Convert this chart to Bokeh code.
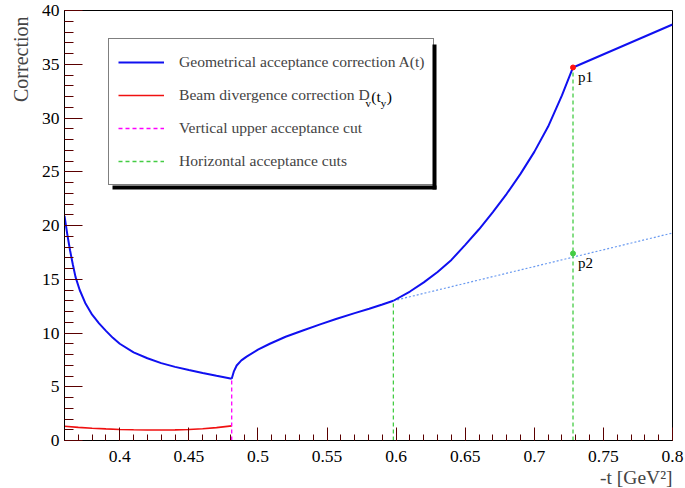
from bokeh.plotting import figure
from bokeh.models import (Range1d, FixedTicker, Legend, LegendItem, Label, Title,
                          BoxAnnotation)
from bokeh.core.properties import value
from bokeh.embed import file_html
from bokeh.resources import INLINE

# ---------------- data ----------------
# Geometrical acceptance correction A(t), piecewise
t_geo_1 = [0.360, 0.362, 0.364, 0.366, 0.368, 0.371, 0.375, 0.380, 0.385, 0.390,
           0.395, 0.400, 0.410, 0.420, 0.430, 0.440, 0.450, 0.460, 0.470, 0.481]
a_geo_1 = [20.9, 19.2, 17.7, 16.4, 15.2, 14.0, 12.8, 11.7, 10.9, 10.2,
           9.55, 9.0, 8.2, 7.65, 7.2, 6.85, 6.55, 6.28, 6.02, 5.74]
t_geo_2 = [0.481, 0.4825, 0.4846, 0.488, 0.4918, 0.500, 0.5086, 0.520, 0.5325,
           0.545, 0.5565, 0.570, 0.5805, 0.590, 0.598]
a_geo_2 = [5.74, 6.4, 6.98, 7.45, 7.8, 8.45, 9.0, 9.65, 10.23,
           10.8, 11.3, 11.85, 12.25, 12.65, 13.0]
t_geo_3 = [0.598, 0.610, 0.620, 0.630, 0.640, 0.650, 0.660, 0.670, 0.680,
           0.690, 0.700, 0.710, 0.720, 0.728]
a_geo_3 = [13.0, 13.86, 14.71, 15.68, 16.8, 18.2, 19.65, 21.25, 22.95,
           24.8, 26.85, 29.2, 32.1, 34.7]
t_geo_4 = [0.728, 0.800]
a_geo_4 = [34.7, 38.7]

# extrapolation (dotted light blue)
t_extrap = [0.598, 0.800]
a_extrap = [13.0, 19.3]

# Beam divergence correction D_v(t_y)
t_div = [0.360, 0.370, 0.380, 0.390, 0.400, 0.410, 0.420, 0.430, 0.440,
         0.450, 0.460, 0.470, 0.481]
d_div = [1.32, 1.22, 1.14, 1.08, 1.03, 1.0, 0.98, 0.97, 0.99,
         1.03, 1.1, 1.2, 1.36]

# acceptance cuts
t_vert_cut = [0.481]
a_vert_cut = [5.74]
t_hor_cut = [0.598, 0.728]
a_hor_cut = [13.0, 34.7]

# marked points
p1_t, p1_a = [0.728], [34.7]
p2_t, p2_a = [0.728], [17.4]
p_names_1 = ["p1"]
p_names_2 = ["p2"]

# axes
x_lo, x_hi = 0.36, 0.80
y_lo, y_hi = 0, 40
x_ticks = [0.40, 0.45, 0.50, 0.55, 0.60, 0.65, 0.70, 0.75, 0.80]
x_tick_labels = ["0.4", "0.45", "0.5", "0.55", "0.6", "0.65", "0.7", "0.75", "0.8"]
x_minor = [round(0.36 + 0.01 * i, 2) for i in range(45)]
y_ticks = [0, 5, 10, 15, 20, 25, 30, 35, 40]
y_minor = list(range(0, 41))

legend_labels = ["Geometrical acceptance correction A(t)",
                 "Beam divergence correction D",
                 "Vertical upper acceptance cut",
                 "Horizontal acceptance cuts"]
# pieces following "D" in the second legend entry: D_v(t_y)
legend2_tail = [("v", True), ("(t", False), ("y", True), (")", False)]
x_title = "-t [GeV\u00b2]"
y_title = "Correction"

FONT = "Liberation Serif"
TICK_COLOR = "#5a0000"

# ---------------- figure / layout ----------------
W, H = 685, 488
BL, BR, BT, BB = 60, 13, 10, 48
FW, FH = W - BL - BR, H - BT - BB          # frame size in px


def px_x(px):   # horizontal pixel offset inside the frame -> data
    return x_lo + px / FW * (x_hi - x_lo)


def px_y(py):   # vertical pixel offset from the frame top -> data
    return y_hi - py / FH * (y_hi - y_lo)


p = figure(width=W, height=H, output_backend="svg", toolbar_location=None,
           x_range=Range1d(x_lo, x_hi), y_range=Range1d(y_lo, y_hi),
           min_border_left=BL, min_border_right=BR, min_border_top=BT,
           min_border_bottom=BB)
p.xgrid.visible = False
p.ygrid.visible = False
p.outline_line_color = "black"
p.background_fill_color = "white"
p.border_fill_color = "white"

for ax in (p.xaxis[0], p.yaxis[0]):
    ax.major_tick_out = 0
    ax.minor_tick_out = 0
    ax.major_tick_line_color = TICK_COLOR
    ax.minor_tick_line_color = TICK_COLOR
    ax.axis_line_color = "#000000"
    ax.major_label_text_font = FONT
    ax.major_label_text_font_size = "17.5px"
    ax.major_label_text_color = "black"

p.xaxis.ticker = FixedTicker(ticks=x_ticks, minor_ticks=x_minor)
p.xaxis.major_label_overrides = dict(zip(x_ticks, x_tick_labels))
p.xaxis.major_label_standoff = 10
p.xaxis.major_tick_in = 13
p.xaxis.minor_tick_in = 6
p.yaxis.ticker = FixedTicker(ticks=y_ticks, minor_ticks=y_minor)
p.yaxis.major_label_standoff = 5
p.yaxis.major_tick_in = 18
p.yaxis.minor_tick_in = 9

# axis titles (right aligned, ROOT style)
p.add_layout(Title(text=y_title, align="right", text_font=FONT,
                   text_font_size="20px", text_font_style="normal",
                   standoff=14, offset=6), "left")
p.add_layout(Title(text=x_title, align="right", text_font=FONT,
                   text_font_size="19.5px", text_font_style="normal",
                   standoff=0), "below")

# ---------------- glyphs ----------------
BLUE = "#1010f0"
r_extrap = p.line(t_extrap, a_extrap, line_color="#6a9af0", line_width=1.2,
                  line_dash="2 2")
r_div = p.line(t_div, d_div, line_color="#f01010", line_width=1.6)
r_v = p.segment(x0=t_vert_cut, y0=[y_lo] * len(t_vert_cut), x1=t_vert_cut,
                y1=a_vert_cut, line_color="#ff00ff", line_width=1.3,
                line_dash="4 3")
r_h = p.segment(x0=t_hor_cut, y0=[y_lo] * len(t_hor_cut), x1=t_hor_cut,
                y1=a_hor_cut, line_color="#44cc44", line_width=1.3,
                line_dash="4 3")
r_geo = None
for tt, aa in ((t_geo_1, a_geo_1), (t_geo_2, a_geo_2), (t_geo_3, a_geo_3),
               (t_geo_4, a_geo_4)):
    r = p.line(tt, aa, line_color=BLUE, line_width=2)
    if r_geo is None:
        r_geo = r

p.scatter(p1_t, p1_a, size=5, color="#ff1010")
p.scatter(p2_t, p2_a, size=5, color="#44cc44")
p.text(p1_t, p1_a, text=p_names_1, x_offset=5, y_offset=2, text_baseline="top",
       text_font=value(FONT), text_font_size="15px", text_color="black")
p.text(p2_t, p2_a, text=p_names_2, x_offset=5, y_offset=2, text_baseline="top",
       text_font=value(FONT), text_font_size="15px", text_color="black")

# ---------------- legend ----------------
LFS = 15.6                                  # legend font size, px
PAD, GW, GH, STAND, LW, SP = 9, 46, 28, 15, 245, 5
LEG_W = PAD + GW + STAND + LW + PAD
LEG_H = 2 * PAD + 4 * GH + 3 * SP
LX, LTOP = 44, 30                           # legend left / top offset in frame
LY = FH - LTOP - LEG_H                      # legend bottom, from frame bottom

# ROOT-like drop shadow: right and bottom bands
SH = 4
box_kw = dict(left_units="screen", right_units="screen", bottom_units="screen",
              top_units="screen", fill_color="black", fill_alpha=1,
              line_alpha=0)
p.add_layout(BoxAnnotation(left=LX + LEG_W, right=LX + LEG_W + SH,
                           bottom=LY - SH, top=LY + LEG_H - SH, **box_kw))
p.add_layout(BoxAnnotation(left=LX + SH, right=LX + LEG_W + SH,
                           bottom=LY - SH, top=LY, **box_kw))

legend = Legend(items=[LegendItem(label=legend_labels[0], renderers=[r_geo]),
                       LegendItem(label=legend_labels[1], renderers=[r_div]),
                       LegendItem(label=legend_labels[2], renderers=[r_v]),
                       LegendItem(label=legend_labels[3], renderers=[r_h])],
                location=(LX, LY), margin=0, padding=PAD, spacing=SP,
                glyph_width=GW, glyph_height=GH, label_height=GH,
                label_width=LW, label_standoff=STAND,
                label_text_font=FONT, label_text_font_size=f"{LFS}px",
                border_line_color="black", border_line_width=1,
                background_fill_alpha=0)
p.add_layout(legend)

# "_v(t_y)" after "D" (Times/Liberation Serif advance widths, units of em)
row2_mid = LTOP + PAD + GH + SP + GH / 2    # from frame top
x_cur = LX + 75 + 11.756 * LFS + 0.5        # end of "...correction D"
SUB_FS = 11
adv = {"v": 0.5, "(t": 0.611, "y": 0.5, ")": 0.333}
for txt, is_sub in legend2_tail:
    fs = SUB_FS if is_sub else LFS
    p.add_layout(Label(x=px_x(x_cur), y=px_y(row2_mid + (6 if is_sub else 0)),
                       text=txt, text_font=FONT, text_font_size=f"{fs}px",
                       text_baseline="middle", text_color="black"))
    x_cur += adv[txt] * fs + (0.5 if is_sub else 0)

open("out.html", "w").write(file_html(p, INLINE))
